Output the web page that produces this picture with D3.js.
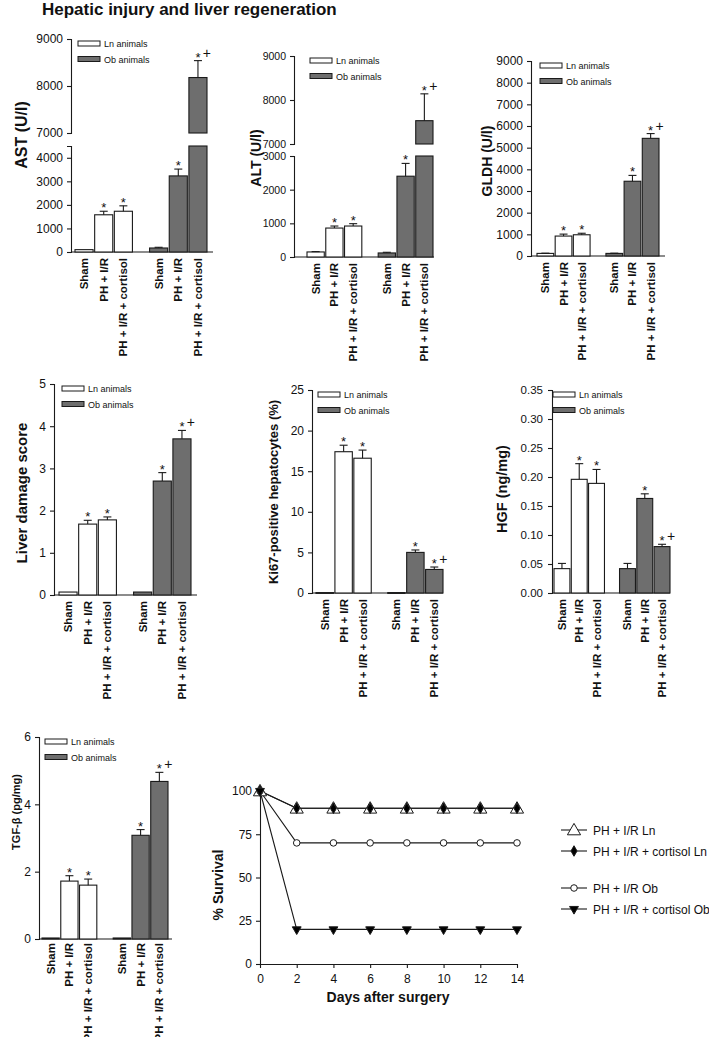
<!DOCTYPE html>
<html><head><meta charset="utf-8">
<script src="https://cdn.jsdelivr.net/npm/d3@7"></script>
<style>
body{margin:0;background:#fff}
svg{display:block}
text{font-family:"Liberation Sans",Arial,sans-serif;fill:#111}
</style>
</head><body>
<svg id="chart" width="709" height="1037"></svg>
<script>
// ---------------- data ----------------
const title = "Hepatic injury and liver regeneration";
const groups = ["Ln animals", "Ob animals"];
const conditions = ["Sham", "PH + I/R", "PH + I/R + cortisol"];
const signif = [["", "*", "*"], ["", "*", "*+"]];

const astMean = [[100, 1580, 1730], [170, 3230, 8180]];
const astSem  = [[0, 150, 230], [30, 290, 360]];
const altMean = [[150, 860, 920], [120, 2400, 7530]];
const altSem  = [[10, 60, 70], [20, 380, 610]];
const gldhMean = [[120, 920, 980], [120, 3450, 5430]];
const gldhSem  = [[10, 90, 70], [10, 270, 220]];
const damageMean = [[0.07, 1.68, 1.78], [0.07, 2.70, 3.70]];
const damageSem  = [[0, 0.09, 0.07], [0, 0.20, 0.20]];
const ki67Mean = [[0.05, 17.4, 16.6], [0.05, 5.0, 2.9]];
const ki67Sem  = [[0, 0.8, 1.0], [0, 0.3, 0.3]];
const hgfMean = [[0.042, 0.196, 0.189], [0.042, 0.163, 0.080]];
const hgfSem  = [[0.009, 0.027, 0.024], [0.009, 0.008, 0.004]];
const tgfMean = [[0.03, 1.72, 1.60], [0.03, 3.08, 4.68]];
const tgfSem  = [[0, 0.16, 0.18], [0, 0.17, 0.27]];

const astTicksLow = [0, 1000, 2000, 3000, 4000];
const astTicksHigh = [7000, 8000, 9000];
const altTicksLow = [0, 1000, 2000, 3000];
const altTicksHigh = [7000, 8000, 9000];
const gldhTicks = [0, 1000, 2000, 3000, 4000, 5000, 6000, 7000, 8000, 9000];
const damageTicks = [0, 1, 2, 3, 4, 5];
const ki67Ticks = [0, 5, 10, 15, 20, 25];
const hgfTicks = [0, 0.05, 0.10, 0.15, 0.20, 0.25, 0.30, 0.35];
const tgfTicks = [0, 2, 4, 6];

const survDays = [0, 2, 4, 6, 8, 10, 12, 14];
const survLnIR = [100, 90, 90, 90, 90, 90, 90, 90];
const survLnCort = [100, 90, 90, 90, 90, 90, 90, 90];
const survObIR = [100, 70, 70, 70, 70, 70, 70, 70];
const survObCort = [100, 20, 20, 20, 20, 20, 20, 20];
const survNames = ["PH + I/R Ln", "PH + I/R + cortisol Ln", "PH + I/R Ob", "PH + I/R + cortisol Ob"];
const survTicksY = [0, 25, 50, 75, 100];
const survTicksX = [0, 2, 4, 6, 8, 10, 12, 14];

// ---------------- drawing ----------------
const svg = d3.select("#chart");
const INK = "#1a1a1a";
const OB_FILL = "#6e6e6e";

svg.append("text").attr("x", 42).attr("y", 15)
  .style("font-size", "17px").style("font-weight", "bold").text(title);

function barPanel(p) {
  const g = svg.append("g");
  const segs = p.segments.map(s => ({
    scale: d3.scaleLinear().domain(s.domain).range(s.range),
    ticks: s.ticks, domain: s.domain
  }));
  const y0 = segs[0].scale(0);
  const top = segs[segs.length - 1].scale.range()[1];
  const fmt = p.format || d3.format("d");

  segs.forEach(s => {
    const ax = d3.axisLeft(s.scale).tickValues(s.ticks).tickSize(4)
      .tickSizeOuter(4).tickPadding(p.tickPad || 4).tickFormat(fmt);
    const a = g.append("g").attr("transform", `translate(${p.axisX},0)`).call(ax);
    a.select(".domain").attr("stroke", INK).attr("stroke-width", 1.1);
    a.selectAll(".tick line").attr("stroke", INK).attr("stroke-width", 1.1);
    a.selectAll(".tick text").style("font-size", (p.tickSize || 12) + "px").attr("fill", "#111");
  });
  g.append("line").attr("x1", p.axisX).attr("x2", p.xEnd).attr("y1", y0).attr("y2", y0)
    .attr("stroke", INK).attr("stroke-width", 1.1);

  const xg = d3.scaleBand().domain(groups).range(p.barRange).paddingInner(0.23).paddingOuter(0);
  const xc = d3.scaleBand().domain(conditions).range([0, xg.bandwidth()]).paddingInner(0.08);

  groups.forEach((grp, gi) => {
    conditions.forEach((cond, ci) => {
      const v = p.mean[gi][ci], e = p.sem[gi][ci];
      const x = xg(grp) + xc(cond), w = xc.bandwidth(), cx = x + w / 2;
      segs.forEach(s => {
        const lo = s.domain[0], hi = s.domain[1];
        if (v <= lo) return;
        const yb = s.scale(lo), yt = s.scale(Math.min(v, hi));
        g.append("rect").attr("x", x).attr("y", yt).attr("width", w).attr("height", Math.max(0.8, yb - yt))
          .attr("fill", gi === 0 ? "#fff" : OB_FILL).attr("stroke", INK).attr("stroke-width", 1.1);
      });
      const seg = segs.find(s => v + e >= s.domain[0] && v + e <= s.domain[1]) || segs[segs.length - 1];
      const yv = seg.scale(v), ye = seg.scale(v + e);
      if (e > 0) {
        g.append("line").attr("x1", cx).attr("x2", cx).attr("y1", yv).attr("y2", ye).attr("stroke", INK).attr("stroke-width", 1.1);
        g.append("line").attr("x1", cx - 4).attr("x2", cx + 4).attr("y1", ye).attr("y2", ye).attr("stroke", INK).attr("stroke-width", 1.1);
      }
      const sig = signif[gi][ci];
      if (sig.includes("*")) {
        g.append("text").attr("x", cx).attr("y", ye + 1).attr("text-anchor", "middle")
          .style("font-size", "13px").text("*");
      }
      if (sig.includes("+")) {
        g.append("text").attr("x", cx + 9).attr("y", ye - 3).attr("text-anchor", "middle")
          .style("font-size", "14px").text("+");
      }
      g.append("text").attr("transform", `translate(${cx + 4},${y0 + (p.catGap || 6)}) rotate(-90)`)
        .attr("text-anchor", "end").style("font-size", (p.catSize || 11.5) + "px").style("font-weight", "bold").text(cond);
    });
  });

  g.append("text").attr("transform", `translate(${p.labelX},${p.labelY}) rotate(-90)`)
    .attr("text-anchor", "middle").style("font-size", p.labelSize + "px").style("font-weight", "bold")
    .text(p.label);

  groups.forEach((grp, gi) => {
    const by = top + 2 + gi * 15.5;
    g.append("rect").attr("x", p.legendX).attr("y", by).attr("width", 22).attr("height", 5)
      .attr("fill", gi === 0 ? "#fff" : OB_FILL).attr("stroke", INK).attr("stroke-width", 1);
    g.append("text").attr("x", p.legendX + 26).attr("y", by + 6).style("font-size", "9px").text(grp);
  });
}

barPanel({ mean: astMean, sem: astSem, axisX: 71, xEnd: 213, barRange: [75, 207],
  segments: [{ domain: [0, 4500], range: [252, 146], ticks: astTicksLow },
             { domain: [7000, 9000], range: [133, 39], ticks: astTicksHigh }],
  label: "AST (U/l)", labelX: 27, labelY: 135, labelSize: 16, legendX: 78 });

barPanel({ mean: altMean, sem: altSem, axisX: 294, xEnd: 434, barRange: [307, 433],
  segments: [{ domain: [0, 3000], range: [257, 156], ticks: altTicksLow },
             { domain: [7000, 9000], range: [144, 56], ticks: altTicksHigh }],
  tickSize: 10.5,
  label: "ALT (U/l)", labelX: 261, labelY: 158, labelSize: 14, legendX: 310 });

barPanel({ mean: gldhMean, sem: gldhSem, axisX: 531, xEnd: 665, barRange: [537, 659],
  segments: [{ domain: [0, 9000], range: [256, 61], ticks: gldhTicks }],
  label: "GLDH (U/l)", labelX: 492, labelY: 161, labelSize: 14, legendX: 540 });

barPanel({ mean: damageMean, sem: damageSem, axisX: 54, xEnd: 197, barRange: [59, 191],
  segments: [{ domain: [0, 5], range: [595, 384], ticks: damageTicks }],
  label: "Liver damage score", labelX: 27, labelY: 493, labelSize: 15, legendX: 62 });

barPanel({ mean: ki67Mean, sem: ki67Sem, axisX: 312, xEnd: 443, barRange: [316, 443],
  segments: [{ domain: [0, 25], range: [593, 390], ticks: ki67Ticks }],
  label: "Ki67-positive hepatocytes (%)", labelX: 278, labelY: 492, labelSize: 13, legendX: 318 });

barPanel({ mean: hgfMean, sem: hgfSem, axisX: 552, xEnd: 670, barRange: [554, 670],
  segments: [{ domain: [0, 0.35], range: [593, 390], ticks: hgfTicks }],
  format: d3.format(".2f"), tickSize: 11.5, tickPad: 5,
  label: "HGF (ng/mg)", labelX: 507, labelY: 489, labelSize: 14.5, legendX: 553 });

barPanel({ mean: tgfMean, sem: tgfSem, axisX: 39, xEnd: 172, barRange: [42, 168],
  segments: [{ domain: [0, 6], range: [939, 737], ticks: tgfTicks }],
  catGap: 4,
  label: "TGF-β (pg/mg)", labelX: 20, labelY: 812, labelSize: 11, legendX: 45 });

// ---------------- survival ----------------
(function () {
  const g = svg.append("g");
  const x = d3.scaleLinear().domain([0, 14]).range([260, 517]);
  const y = d3.scaleLinear().domain([0, 100]).range([964, 791]);
  const ax = g.append("g").attr("transform", "translate(0,964)")
    .call(d3.axisBottom(x).tickValues(survTicksX).tickSize(4).tickSizeOuter(0).tickPadding(6));
  const ay = g.append("g").attr("transform", "translate(260,0)")
    .call(d3.axisLeft(y).tickValues(survTicksY).tickSize(4).tickSizeOuter(0).tickPadding(4));
  [ax, ay].forEach(a => {
    a.select(".domain").attr("stroke", INK).attr("stroke-width", 1.1);
    a.selectAll(".tick line").attr("stroke", INK).attr("stroke-width", 1.1);
    a.selectAll(".tick text").style("font-size", "12px").attr("fill", "#111");
  });
  g.append("text").attr("x", 388).attr("y", 1002).attr("text-anchor", "middle")
    .style("font-size", "14px").style("font-weight", "bold").text("Days after surgery");
  g.append("text").attr("transform", "translate(223,885) rotate(-90)").attr("text-anchor", "middle")
    .style("font-size", "14px").style("font-weight", "bold").text("% Survival");

  const series = [
    { vals: survLnIR, sym: d3.symbolTriangle, size: 75, fill: "#fff", rot: 0, dy: 1 },
    { vals: survLnCort, sym: d3.symbolDiamond, size: 32, fill: "#000", rot: 0, dy: 0 },
    { vals: survObIR, sym: d3.symbolCircle, size: 34, fill: "#fff", rot: 0, dy: 0 },
    { vals: survObCort, sym: d3.symbolTriangle, size: 34, fill: "#000", rot: 180, dy: 0 }
  ];
  const line = d3.line().x((d, i) => x(survDays[i])).y(d => y(d));
  series.forEach(s => {
    g.append("path").attr("d", line(s.vals)).attr("fill", "none").attr("stroke", INK).attr("stroke-width", 1.1);
  });
  series.forEach(s => {
    s.vals.forEach((v, i) => {
      g.append("path").attr("d", d3.symbol().type(s.sym).size(s.size)())
        .attr("transform", `translate(${x(survDays[i])},${y(v) + s.dy}) rotate(${s.rot})`)
        .attr("fill", s.fill).attr("stroke", INK).attr("stroke-width", 1);
    });
  });
  const ly = [830, 851, 888, 909];
  series.forEach((s, i) => {
    g.append("line").attr("x1", 561).attr("x2", 587).attr("y1", ly[i]).attr("y2", ly[i])
      .attr("stroke", INK).attr("stroke-width", 1.1);
    g.append("path").attr("d", d3.symbol().type(s.sym).size(s.size)())
      .attr("transform", `translate(574,${ly[i] + s.dy}) rotate(${s.rot})`)
      .attr("fill", s.fill).attr("stroke", INK).attr("stroke-width", 1);
    g.append("text").attr("x", 593).attr("y", ly[i] + 4.5).style("font-size", "12px").text(survNames[i]);
  });
})();
</script>
</body></html>
